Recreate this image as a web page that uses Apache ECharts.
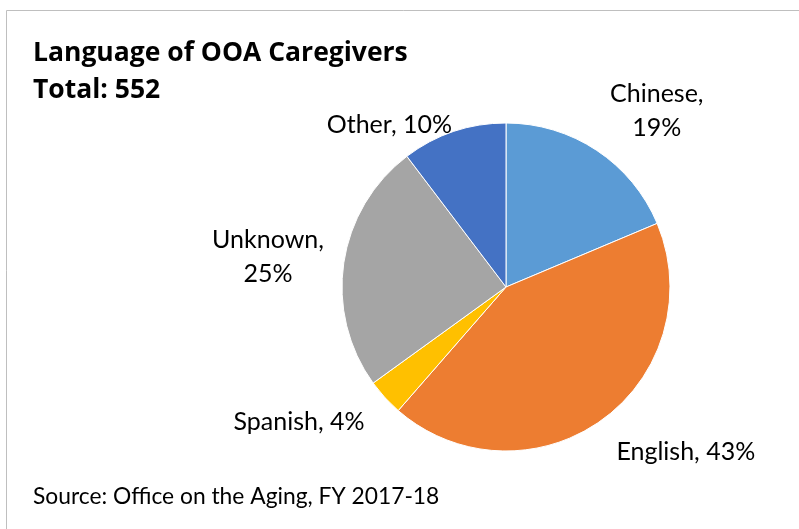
<!DOCTYPE html>
<html>
<head>
<meta charset="utf-8">
<script src="https://cdn.jsdelivr.net/npm/echarts@6/dist/echarts.min.js"></script>
<style>
  html, body { margin: 0; padding: 0; background: #fff; }
  #chart { width: 799px; height: 529px; }
</style>
</head>
<body>
<div id="chart"></div>
<script>
// 语言分类及人数
var languages = ['Chinese', 'English', 'Spanish', 'Unknown', 'Other'];
var counts = [103, 236, 20, 136, 57];
var colors = ['#5B9BD5', '#ED7D31', '#FFC000', '#A5A5A5', '#4472C4'];
// 两行显示的标签
var wrapLabel = [true, false, false, true, false];
// 标签微调偏移
var labelShift = [[14, -23], [37, 16], [-36, 11], [-21, -3], [-23, 12]];

var total = counts.reduce(function(a, b) { return a + b; }, 0);

var FONT = 'Lato';

var chart = echarts.init(document.getElementById('chart'));

var option = {
    backgroundColor: '#fff',
    animation: false,
    graphic: [{
        type: 'rect',
        shape: { x: 6.5, y: 10.5, width: 800, height: 530 },
        style: { fill: 'none', stroke: '#bfbfbf', lineWidth: 1 }
    }, {
        type: 'text',
        left: 33,
        top: 35,
        style: {
            text: 'Language of OOA Caregivers\nTotal: ' + total,
            font: 'bold 26.5px "Open Sans"',
            lineHeight: 37,
            fill: '#000'
        }
    }, {
        type: 'text',
        left: 33,
        top: 485,
        style: {
            text: 'Source: Office on the Aging, FY 2017-18',
            font: '22.8px ' + FONT,
            fill: '#000'
        }
    }],
    series: [{
        type: 'pie',
        center: [506, 287],
        radius: 164,
        startAngle: 90,
        clockwise: true,
        itemStyle: {
            borderColor: '#fff',
            borderWidth: 1
        },
        label: {
            show: true,
            position: 'outside',
            fontFamily: FONT,
            fontSize: 25,
            color: '#000',
            lineHeight: 34,
            formatter: function(p) {
                var pct = Math.round(p.value / total * 100) + '%';
                return wrapLabel[p.dataIndex] ? p.name + ',\n' + pct : p.name + ', ' + pct;
            }
        },
        labelLine: { show: false, length: 20, length2: 30 },
        labelLayout: function(params) {
            var s = labelShift[params.dataIndex];
            return { align: 'center', verticalAlign: 'middle', dx: s[0], dy: s[1] };
        },
        data: languages.map(function(name, i) {
            return { name: name, value: counts[i], itemStyle: { color: colors[i] } };
        })
    }]
};

chart.setOption(option);
</script>
</body>
</html>
